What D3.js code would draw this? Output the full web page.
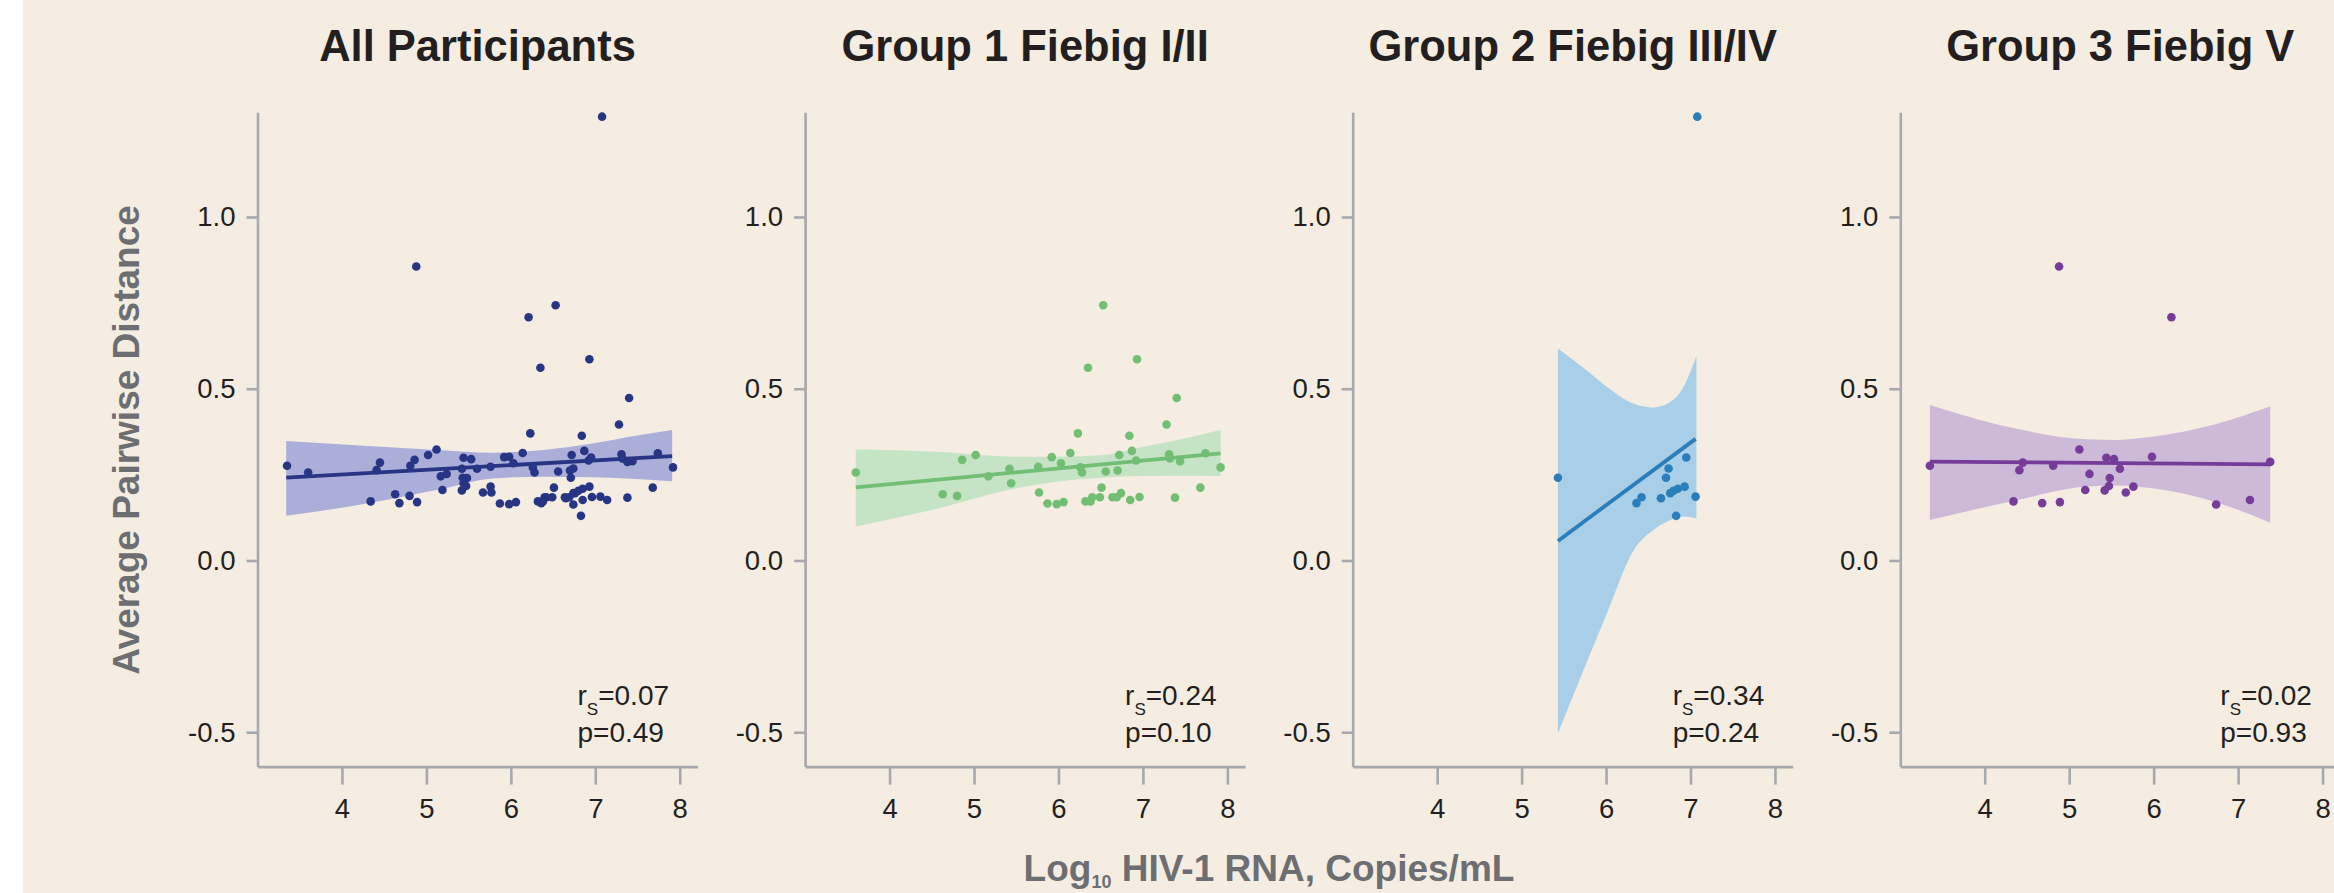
<!DOCTYPE html>
<html>
<head>
<meta charset="utf-8">
<script src="https://cdn.jsdelivr.net/npm/d3@7"></script>
<style>
  body { margin: 0; background: #fff; }
  svg { display: block; font-family: "Liberation Sans", Arial, Helvetica, sans-serif; }
</style>
</head>
<body>
<svg id="chart" width="2334" height="893"></svg>
<script>
const panelTitles = ['All Participants', 'Group 1 Fiebig I/II', 'Group 2 Fiebig III/IV', 'Group 3 Fiebig V'];

// log10 viral load (x) and average pairwise distance (y), per Fiebig group
const group1X = [3.60, 4.63, 4.80, 4.86, 5.02, 5.17, 5.42, 5.44, 5.76, 5.77, 5.87, 5.92, 5.98, 6.03, 6.06, 6.14, 6.23, 6.26, 6.28, 6.32, 6.35, 6.38, 6.40, 6.49, 6.51, 6.53, 6.56, 6.64, 6.69, 6.70, 6.72, 6.74, 6.84, 6.85, 6.87, 6.92, 6.93, 6.96, 7.28, 7.31, 7.32, 7.38, 7.40, 7.44, 7.68, 7.74, 7.92];
const group1Y = [0.256, 0.193, 0.188, 0.293, 0.307, 0.245, 0.267, 0.225, 0.273, 0.198, 0.166, 0.301, 0.164, 0.283, 0.170, 0.313, 0.370, 0.271, 0.256, 0.172, 0.561, 0.172, 0.184, 0.184, 0.212, 0.743, 0.259, 0.184, 0.184, 0.262, 0.307, 0.196, 0.363, 0.176, 0.319, 0.291, 0.586, 0.185, 0.396, 0.309, 0.297, 0.183, 0.473, 0.289, 0.212, 0.312, 0.271];
const group2X = [5.43, 6.36, 6.42, 6.65, 6.71, 6.74, 6.76, 6.80, 6.85, 6.83, 6.93, 6.95, 7.06, 7.08];
const group2Y = [0.241, 0.167, 0.184, 0.181, 0.241, 0.268, 0.196, 0.203, 0.209, 0.130, 0.215, 0.300, 0.186, 1.292];
const group3X = [3.35, 4.34, 4.41, 4.45, 4.68, 4.81, 4.88, 4.89, 5.12, 5.19, 5.24, 5.42, 5.44, 5.47, 5.48, 5.53, 5.60, 5.67, 5.76, 5.98, 6.21, 6.74, 7.14, 7.38];
const group3Y = [0.276, 0.172, 0.263, 0.285, 0.167, 0.276, 0.856, 0.170, 0.323, 0.205, 0.252, 0.204, 0.299, 0.217, 0.240, 0.295, 0.267, 0.198, 0.215, 0.302, 0.708, 0.163, 0.176, 0.287];

// fitted line ends, one entry per panel
const fitStartX = [3.34, 3.60, 5.43, 3.35];
const fitEndX = [7.91, 7.92, 7.06, 7.38];
const fitStartY = [0.241, 0.213, 0.057, 0.288];
const fitEndY = [0.304, 0.312, 0.354, 0.280];

// confidence bands
const bandX = [
  [3.34, 4.21, 5.12, 5.79, 6.39, 6.98, 7.37, 7.91],
  [3.60, 4.50, 5.50, 6.00, 6.50, 7.00, 7.50, 7.92],
  [5.43, 5.73, 6.01, 6.33, 6.56, 6.72, 6.92, 7.07],
  [3.35, 4.35, 5.19, 5.57, 5.98, 6.72, 7.38]
];
const bandHi = [
  [0.348, 0.335, 0.322, 0.314, 0.322, 0.341, 0.359, 0.380],
  [0.324, 0.317, 0.302, 0.302, 0.306, 0.331, 0.356, 0.380],
  [0.617, 0.561, 0.506, 0.456, 0.445, 0.456, 0.506, 0.595],
  [0.453, 0.385, 0.353, 0.351, 0.360, 0.396, 0.448]
];
const bandLo = [
  [0.130, 0.162, 0.205, 0.239, 0.244, 0.242, 0.239, 0.231],
  [0.099, 0.147, 0.210, 0.230, 0.241, 0.246, 0.247, 0.246],
  [-0.503, -0.321, -0.154, 0.031, 0.089, 0.113, 0.128, 0.122],
  [0.118, 0.174, 0.215, 0.218, 0.210, 0.171, 0.110]
];

const rsValues = ['0.07', '0.24', '0.34', '0.02'];
const pValues = ['0.49', '0.10', '0.24', '0.93'];

const xTicks = [4, 5, 6, 7, 8];
const yTicks = [-0.5, 0.0, 0.5, 1.0];

const pointColors = ['#283584', '#72be74', '#2c7eba', '#763c99'];
const bandColors = ['#abaed9', '#c5e3c5', '#a8cee8', '#cdbad9'];

const panelX = [group1X.concat(group2X, group3X), group1X, group2X, group3X];
const panelY = [group1Y.concat(group2Y, group3Y), group1Y, group2Y, group3Y];

const svg = d3.select('#chart');
const textColor = '#231f20';
const axisColor = '#a7a9ac';

// background, with a thin white strip on the left edge
svg.append('rect').attr('x', 23).attr('y', 0).attr('width', 2334 - 23).attr('height', 893).attr('fill', '#f5ede1');

const left0 = 257.5;
const panelGap = 547.6;
const plotW = 440;
const yTop = 112.2;
const yBot = 766.6;

const y = d3.scaleLinear().domain([-0.6, 1.305]).range([yBot, yTop]);

panelTitles.forEach(function(title, i) {
    const x0 = left0 + i * panelGap;
    const x = d3.scaleLinear().domain([3, 8.21]).range([x0, x0 + plotW]);
    const g = svg.append('g').attr('class', 'panel');

    // title
    g.append('text')
        .attr('x', x0 + plotW / 2)
        .attr('y', 61)
        .attr('text-anchor', 'middle')
        .attr('fill', textColor)
        .style('font-size', '43.5px')
        .style('font-weight', 'bold')
        .text(title);

    // CI band
    const bandData = bandX[i].map((bx, k) => ({ x: bx, lo: bandLo[i][k], hi: bandHi[i][k] }));
    const area = d3.area()
        .x(d => x(d.x))
        .y0(d => y(d.lo))
        .y1(d => y(d.hi))
        .curve(d3.curveMonotoneX);
    g.append('path')
        .attr('d', area(bandData))
        .attr('fill', bandColors[i]);

    // regression line
    const line = d3.line().x(d => x(d[0])).y(d => y(d[1]));
    g.append('path')
        .attr('d', line([[fitStartX[i], fitStartY[i]], [fitEndX[i], fitEndY[i]]]))
        .attr('stroke', pointColors[i])
        .attr('stroke-width', 3.8)
        .attr('fill', 'none');

    // points
    g.selectAll('.dot')
        .data(panelX[i].map((px, k) => [px, panelY[i][k]]))
        .enter()
        .append('circle')
        .attr('class', 'dot')
        .attr('cx', d => x(d[0]))
        .attr('cy', d => y(d[1]))
        .attr('r', 4.3)
        .attr('fill', pointColors[i]);

    // axes
    const yAxis = d3.axisLeft(y)
        .tickValues(yTicks)
        .tickFormat(d => d.toFixed(1))
        .tickSizeInner(11)
        .tickSizeOuter(0)
        .tickPadding(11);
    const ya = g.append('g').attr('transform', `translate(${x0},0)`).call(yAxis);

    const xAxis = d3.axisBottom(x)
        .tickValues(xTicks)
        .tickFormat(d3.format('d'))
        .tickSizeInner(18)
        .tickSizeOuter(0)
        .tickPadding(14);
    const xa = g.append('g').attr('transform', `translate(0,${yBot})`).call(xAxis);

    [ya, xa].forEach(function(a) {
        a.select('.domain').attr('stroke', axisColor).attr('stroke-width', 2.6);
        a.selectAll('.tick line').attr('stroke', axisColor).attr('stroke-width', 2.6);
        a.selectAll('.tick text')
            .attr('fill', textColor)
            .style('font-size', '27.5px')
            .style('font-family', '"Liberation Sans", Arial, Helvetica, sans-serif');
    });

    // Spearman stats
    const st = g.append('text')
        .attr('x', x0 + 320)
        .attr('y', 705)
        .attr('fill', textColor)
        .style('font-size', '28px');
    st.append('tspan').text('r');
    st.append('tspan').attr('dy', 10).style('font-size', '17px').text('S');
    st.append('tspan').attr('dy', -10).text('=' + rsValues[i]);

    g.append('text')
        .attr('x', x0 + 320)
        .attr('y', 742)
        .attr('fill', textColor)
        .style('font-size', '28px')
        .text('p=' + pValues[i]);
});

// shared axis labels
svg.append('text')
    .attr('transform', 'translate(139,440) rotate(-90)')
    .attr('text-anchor', 'middle')
    .attr('fill', '#6d6e71')
    .style('font-size', '37px')
    .style('font-weight', 'bold')
    .text('Average Pairwise Distance');

const xl = svg.append('text')
    .attr('x', 1269)
    .attr('y', 881)
    .attr('text-anchor', 'middle')
    .attr('fill', '#6d6e71')
    .style('font-size', '37px')
    .style('font-weight', 'bold');
xl.append('tspan').text('Log');
xl.append('tspan').attr('dy', 7).style('font-size', '18px').text('10');
xl.append('tspan').attr('dy', -7).text(' HIV-1 RNA, Copies/mL');
</script>
</body>
</html>
